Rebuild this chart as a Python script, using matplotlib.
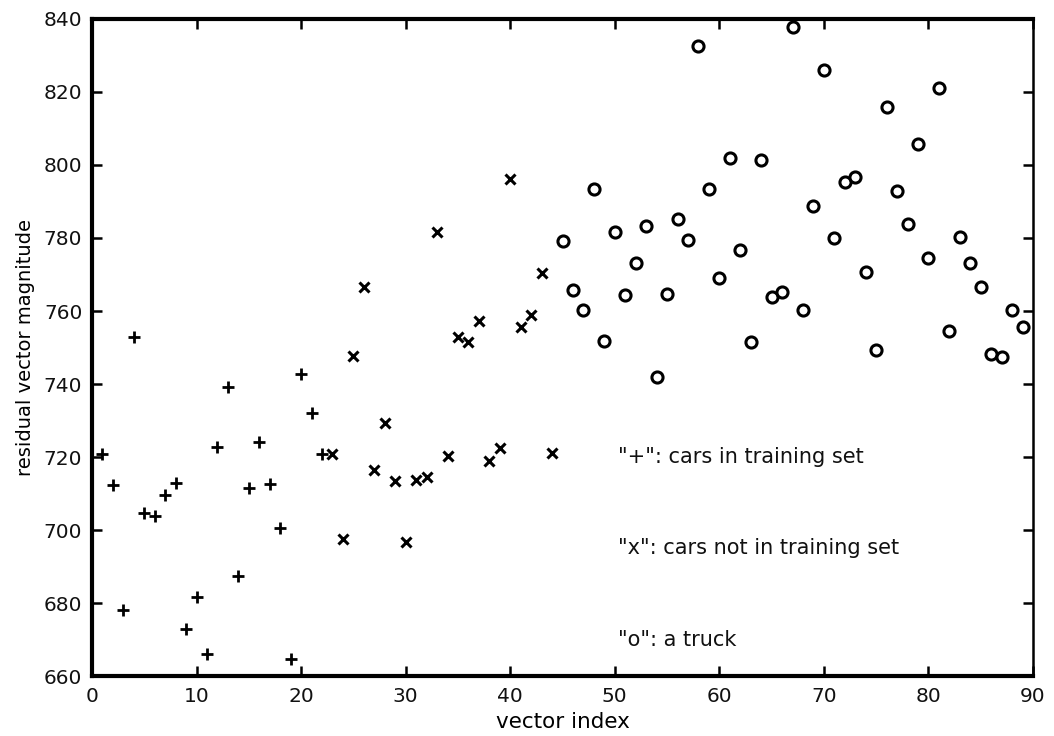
import matplotlib
matplotlib.use('Agg')
import matplotlib.pyplot as plt

# "+" : cars in training set (vector index 1-22)
plus_idx = list(range(1, 23))
plus_val = [720.7, 712.3, 678, 752.8, 704.6, 703.8, 709.6, 713, 672.8, 681.6,
            666, 722.8, 739.3, 687.4, 711.4, 724.2, 712.6, 700.5, 664.7, 742.7,
            732, 720.7]

# "x" : cars not in training set (vector index 23-44)
x_idx = list(range(23, 45))
x_val = [720.7, 697.5, 747.7, 766.5, 716.4, 729.2, 713.5, 696.8, 713.7, 714.6,
         781.6, 720.4, 752.8, 751.6, 757.3, 719, 722.4, 796.2, 755.7, 758.9,
         770.5, 721.2]

# "o" : a truck (vector index 45-89)
o_idx = list(range(45, 90))
o_val = [779.3, 765.8, 760.3, 793.4, 751.8, 781.6, 764.4, 773.1, 783.3, 742,
         764.6, 785.1, 779.5, 832.6, 793.4, 769, 801.8, 776.7, 751.6, 801.4,
         763.9, 765.1, 837.9, 760.3, 788.9, 826, 779.9, 795.4, 796.8, 770.8,
         749.3, 816, 793, 783.8, 805.8, 774.4, 821.2, 754.6, 780.2, 773.1,
         766.5, 748.2, 747.5, 760.3, 755.7]

notes = ['"+": cars in training set', '"x": cars not in training set', '"o": a truck']
note_y = [720, 695, 670]

fig = plt.figure(figsize=(10.54, 7.36), dpi=100)
ax = fig.add_axes([0.0873, 0.0815, 0.8928, 0.8927])

ax.plot(plus_idx, plus_val, '+', color='black', markersize=8.5, markeredgewidth=2)
ax.plot(x_idx, x_val, 'x', color='black', markersize=7.5, markeredgewidth=2.2)
ax.plot(o_idx, o_val, 'o', color='black', markerfacecolor='white',
        markersize=8, markeredgewidth=2.2)

for t, yy in zip(notes, note_y):
    ax.text(50.3, yy, t, fontsize=15, va='center', ha='left', color='#111111')

ax.set_xlim(0, 90)
ax.set_ylim(660, 840)
ax.set_xticks(range(0, 91, 10))
ax.set_yticks(range(660, 841, 20))
ax.tick_params(direction='in', length=7, width=1.8, top=True, right=True,
               labelsize=14.5, pad=8, labelcolor='#111111')
ax.tick_params(axis='y', pad=7)

for side in ['left', 'top', 'bottom']:
    ax.spines[side].set_linewidth(3)
ax.spines['right'].set_linewidth(1.8)

ax.set_xlabel('vector index', fontsize=15.5, labelpad=4)
ax.set_ylabel('residual vector magnitude', fontsize=14, labelpad=6)

fig.savefig('out.png', dpi=100)
